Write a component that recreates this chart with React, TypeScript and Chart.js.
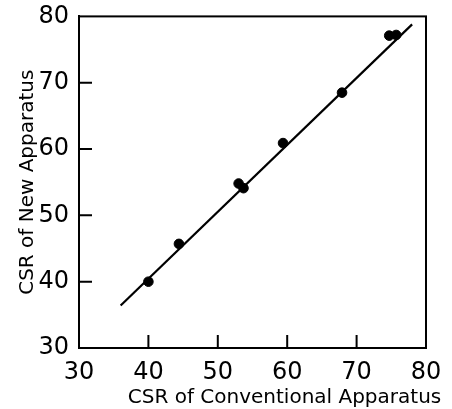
import React, { useEffect, useRef } from "react";
import { Chart, registerables } from "chart.js";

Chart.register(...registerables);

const conventionalCSR = [40.0, 44.4, 53.0, 53.7, 59.4, 67.9, 74.7, 75.7];
const newCSR = [40.0, 45.7, 54.8, 54.1, 60.9, 68.5, 77.1, 77.2];
const fitX = [36.0, 78.0];
const fitY = [36.4, 78.8];
const axisMin = 30;
const axisMax = 80;
const tickStep = 10;
const xTitle = "CSR of Conventional Apparatus";
const yTitle = "CSR of New Apparatus";

const FONT = "'DejaVu Sans', sans-serif";

const framePlugin = {
  id: "frameAndTicks",
  afterDraw(chart: any) {
    const { ctx, chartArea } = chart;
    const { left, right, top, bottom } = chartArea;
    ctx.save();
    ctx.strokeStyle = "#000";
    ctx.lineWidth = 2;
    ctx.strokeRect(left, top, right - left, bottom - top);
    const tickLen = 13;
    const xs = chart.scales.x;
    const ys = chart.scales.y;
    ctx.beginPath();
    xs.ticks.forEach((t: any) => {
      if (t.value <= xs.min || t.value >= xs.max) return;
      const px = xs.getPixelForValue(t.value);
      ctx.moveTo(px, bottom);
      ctx.lineTo(px, bottom - tickLen);
    });
    ys.ticks.forEach((t: any) => {
      if (t.value <= ys.min || t.value >= ys.max) return;
      const py = ys.getPixelForValue(t.value);
      ctx.moveTo(left, py);
      ctx.lineTo(left + tickLen, py);
    });
    ctx.stroke();

    // axis titles
    ctx.fillStyle = "#000";
    ctx.font = `20px ${FONT}`;
    ctx.textAlign = "center";
    ctx.textBaseline = "alphabetic";
    ctx.fillText(xTitle, (left + right) / 2 + 32, chart.height - 6);
    ctx.translate(33, (top + bottom) / 2);
    ctx.rotate(-Math.PI / 2);
    ctx.fillText(yTitle, 0, 0);
    ctx.restore();
  },
};

export default function App() {
  const ref = useRef<HTMLCanvasElement | null>(null);
  useEffect(() => {
    if (!ref.current) return;
    const scatter = conventionalCSR.map((x, i) => ({ x, y: newCSR[i] }));
    const fit = fitX.map((x, i) => ({ x, y: fitY[i] }));
    const tickFont = { family: FONT, size: 24 };
    const chart = new Chart(ref.current, {
      type: "scatter",
      data: {
        datasets: [
          {
            type: "line",
            data: fit,
            borderColor: "#000",
            borderWidth: 2.2,
            pointRadius: 0,
            fill: false,
          } as any,
          {
            data: scatter,
            backgroundColor: "#000",
            borderColor: "#000",
            pointRadius: 4.8,
            pointHoverRadius: 4.8,
          },
        ],
      },
      options: {
        animation: false,
        responsive: false,
        maintainAspectRatio: false,
        layout: { padding: { top: 15, right: 26, left: 0, bottom: 0 } },
        plugins: {
          legend: { display: false },
          tooltip: { enabled: false },
        },
        scales: {
          x: {
            type: "linear",
            min: axisMin,
            max: axisMax,
            grid: { display: false },
            border: { display: true, color: "#000", width: 2 },
            ticks: { stepSize: tickStep, color: "#000", font: tickFont, padding: 2 },
            afterFit(scale: any) {
              scale.height = 61;
            },
          },
          y: {
            type: "linear",
            min: axisMin,
            max: axisMax,
            grid: { display: false },
            border: { display: true, color: "#000", width: 2 },
            ticks: { stepSize: tickStep, color: "#000", font: tickFont, padding: 2 },
            afterFit(scale: any) {
              scale.width = 79;
            },
          },
        },
      },
      plugins: [framePlugin],
    });
    return () => chart.destroy();
  }, []);
  return (
    <div style={{ position: "absolute", left: 0, top: 0, width: 452, height: 409, background: "#fff" }}>
      <canvas ref={ref} width={452} height={409} style={{ width: 452, height: 409 }} />
    </div>
  );
}
